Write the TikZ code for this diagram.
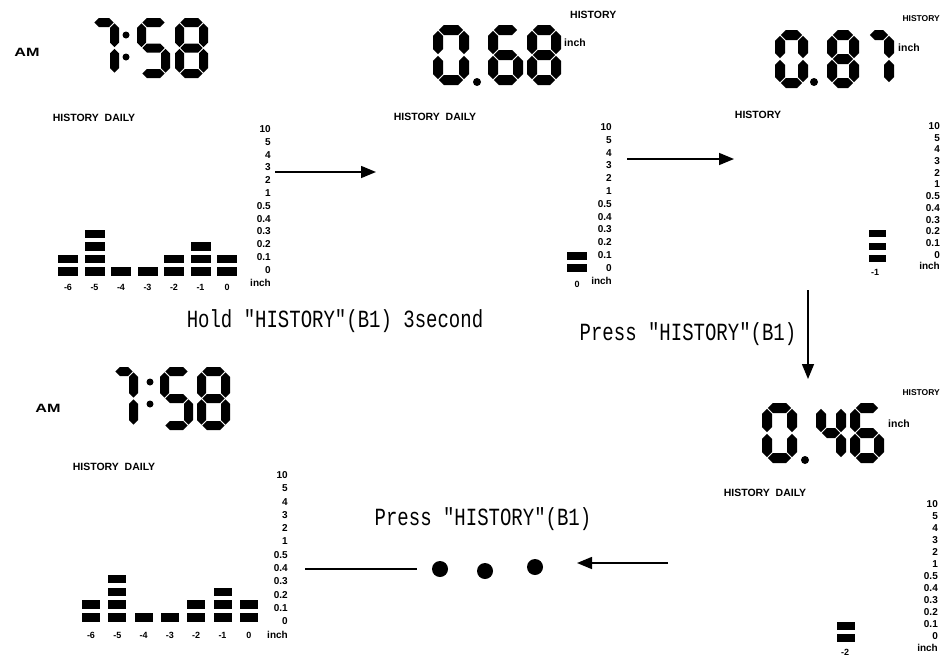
\documentclass[tikz,border=0pt]{standalone}
\usepackage{fontspec}
\setmainfont{Liberation Sans}
\newfontfamily\monof{Liberation Mono}
\usetikzlibrary{arrows.meta}

\newcommand\hsegcmd[3]{\fill[lcdfill] ({#2},{#1}) -- ({#2+\LH},{#1-\LH}) -- ({#3-\LH},{#1-\LH}) -- ({#3},{#1}) -- ({#3-\LH},{#1+\LH}) -- ({#2+\LH},{#1+\LH}) -- cycle;}
\newcommand\vsegcmd[3]{\fill[lcdfill] ({#1},{#2}) -- ({#1+\LH},{#2+\LH}) -- ({#1+\LH},{#3-\LH}) -- ({#1},{#3}) -- ({#1-\LH},{#3-\LH}) -- ({#1-\LH},{#2+\LH}) -- cycle;}
\newcommand\SegA{\hsegcmd{\LYt}{\LXl+\LG}{\LXr-\LG}}
\newcommand\SegG{\hsegcmd{\LYm}{\LXl+\LG}{\LXr-\LG}}
\newcommand\SegD{\hsegcmd{\LYb}{\LXl+\LG}{\LXr-\LG}}
\newcommand\SegF{\vsegcmd{\LXl}{\LYt+\LG}{\LYm-\LG}}
\newcommand\SegB{\vsegcmd{\LXr}{\LYt+\LG}{\LYm-\LG}}
\newcommand\SegE{\vsegcmd{\LXl}{\LYm+\LG}{\LYb-\LG}}
\newcommand\SegC{\vsegcmd{\LXr}{\LYm+\LG}{\LYb-\LG}}
\newcommand\DZero{\SegA\SegB\SegC\SegD\SegE\SegF}
\newcommand\DFour{\SegF\SegG\SegB\SegC}
\newcommand\DFive{\SegA\SegF\SegG\SegC\SegD}
\newcommand\DSix{\SegA\SegF\SegG\SegE\SegC\SegD}
\newcommand\DSeven{\SegA\SegB\SegC}
\newcommand\DEight{\SegA\SegB\SegC\SegD\SegE\SegF\SegG}
% x, y (top-left), width, height, thickness, digit
\newcommand\lcd[6]{%
 \begin{scope}[shift={(#1,#2)}]
 \pgfmathsetmacro\LH{#5/2}\pgfmathsetmacro\LG{0.8}
 \pgfmathsetmacro\LXl{\LH}\pgfmathsetmacro\LXr{#3-\LH}
 \pgfmathsetmacro\LYt{\LH}\pgfmathsetmacro\LYm{#4/2}\pgfmathsetmacro\LYb{#4-\LH}
 #6
 \end{scope}}
% scale column: right x, first y, step, name prefix
\newcommand\scalecol[4]{%
 \foreach \t [count=\i from 0] in {10,5,4,3,2,1,0.5,0.4,0.3,0.2,0.1,0,inch}
   \node[scl] (#4\i) at (#1,{#2+\i*#3}) {\t};}
% bar column: centre x, top of lowest bar, width, height, pitch, count
\newcommand\barcol[6]{%
 \foreach \k in {1,...,#6}
   \fill[bar] ({#1-#3/2},{#2-(\k-1)*#5}) rectangle ++(#3,#4);}

\begin{document}
\begin{tikzpicture}[x=1pt,y=-1pt,
  lcdfill/.style={fill=black},
  bar/.style={fill=black},
  lbl/.style={font=\bfseries\fontsize{10.5}{11}\selectfont, inner sep=0},
  sml/.style={font=\bfseries\fontsize{8.5}{9}\selectfont, inner sep=0, anchor=east},
  scl/.style={font=\bfseries\fontsize{10}{10}\selectfont, inner sep=0, anchor=east},
  barlbl/.style={font=\bfseries\fontsize{9}{9}\selectfont, inner sep=0},
  amlbl/.style={font=\bfseries\fontsize{12}{12}\selectfont, inner sep=0, xscale=1.35},
  captxt/.style={font=\monof\fontsize{19}{20}\selectfont, yscale=1.3, inner sep=0},
  arr/.style={line width=1.5, -{Triangle[length=15pt,width=12pt]}},
  conn/.style={line width=1.5}]
\useasboundingbox (0,0) rectangle (941,656);
\clip (0,0) rectangle (941,656);

% ---------- Panel 1 ----------
\node[amlbl] (am1) at (27,52) {AM};
\lcd{89}{18}{30}{60}{9}{\DSeven}
\fill (126,35) circle (3.5) (126,57) circle (3.5);
\lcd{137}{18}{33}{60}{9}{\DFive}
\lcd{175}{18}{33}{60}{9}{\DEight}
\node[lbl] (hd1) at (94,118) {HISTORY\ \ DAILY};
\scalecol{271}{129}{12.8}{s1}
\foreach \n/\c [count=\j from 0] in {2/-6,4/-5,1/-4,1/-3,2/-2,3/-1,2/0}{
  \barcol{68+\j*26.5}{267}{20}{8.5}{12.5}{\n}
  \node[barlbl] (b1\j) at ({68+\j*26.5},287) {\c};
}

% ---------- Panel 2 ----------
\node[lbl,anchor=west] (h2) at (570,15) {HISTORY};
\lcd{433}{25}{36}{60}{10}{\DZero}
\fill (477,82) circle (4);
\lcd{488}{25}{35}{60}{10}{\DSix}
\lcd{527}{25}{34}{60}{10}{\DEight}
\node[lbl,anchor=west] (in2) at (564,43) {inch};
\node[lbl] (hd2) at (435,117) {HISTORY\ \ DAILY};
\scalecol{612}{127}{12.8}{s2}
\barcol{577}{264}{20}{8}{12}{2}
\node[barlbl] (b20) at (577,284) {0};

% ---------- Panel 3 ----------
\node[sml] (h3) at (940,19) {HISTORY};
\lcd{775}{30}{33}{58}{10}{\DZero}
\fill (814,82) circle (4);
\lcd{827}{30}{32}{58}{10}{\DEight}
\lcd{864}{30}{30}{58}{10}{\DSeven}
\node[lbl,anchor=west] (in3) at (898,48) {inch};
\node[lbl] (hd3) at (758,115) {HISTORY};
\scalecol{940}{126}{11.7}{s3}
\barcol{877}{255}{17}{7}{12.5}{3}
\node[barlbl] (b30) at (875,272) {-1};

% ---------- Panel 4 ----------
\node[amlbl] (am4) at (48,408) {AM};
\lcd{110}{367}{28}{63}{9}{\DSeven}
\fill (150,382) circle (3.5) (150,404) circle (3.5);
\lcd{160}{367}{33}{63}{9}{\DFive}
\lcd{197}{367}{33}{63}{9}{\DEight}
\node[lbl] (hd4) at (114,467) {HISTORY\ \ DAILY};
\scalecol{288}{475}{13.3}{s4}
\foreach \n/\c [count=\j from 0] in {2/-6,4/-5,1/-4,1/-3,2/-2,3/-1,2/0}{
  \barcol{91+\j*26.3}{613}{18}{8.5}{12.7}{\n}
  \node[barlbl] (b4\j) at ({91+\j*26.3},635) {\c};
}

% ---------- Panel 5 ----------
\node[sml] (h5) at (940,393) {HISTORY};
\lcd{762}{403}{35}{60}{10}{\DZero}
\fill (805,460) circle (4);
\lcd{816}{403}{30}{60}{10}{\DFour}
\lcd{850}{403}{34}{60}{10}{\DSix}
\node[lbl,anchor=west] (in5) at (888,424) {inch};
\node[lbl] (hd5) at (765,493) {HISTORY\ \ DAILY};
\scalecol{938}{504}{12}{s5}
\barcol{846}{634}{18}{8}{12}{2}
\node[barlbl] (b50) at (845,652) {-2};

% ---------- Connectors and captions ----------
\coordinate (a1s) at (275,172); \coordinate (a1e) at (376,172);
\draw[arr] (a1s) -- (a1e);
\coordinate (a2s) at (627,159); \coordinate (a2e) at (734,159);
\draw[arr] (a2s) -- (a2e);
\coordinate (a3s) at (808,290); \coordinate (a3e) at (808,379);
\draw[arr] (a3s) -- (a3e);
\coordinate (a4s) at (668,563); \coordinate (a4e) at (577,563);
\draw[arr] (a4s) -- (a4e);
\coordinate (l5s) at (305,569); \coordinate (l5e) at (417,569);
\draw[conn] (l5s) -- (l5e);
\node[circle,fill=black,inner sep=0,minimum size=16] (d1) at (440,569) {};
\node[circle,fill=black,inner sep=0,minimum size=16] (d2) at (485,571) {};
\node[circle,fill=black,inner sep=0,minimum size=16] (d3) at (535,567) {};

\node[captxt] (t1) at (335,321) {Hold "HISTORY"(B1) 3second};
\node[captxt] (t2) at (688,334) {Press "HISTORY"(B1)};
\node[captxt] (t3) at (483,519) {Press "HISTORY"(B1)};
\end{tikzpicture}
\end{document}
